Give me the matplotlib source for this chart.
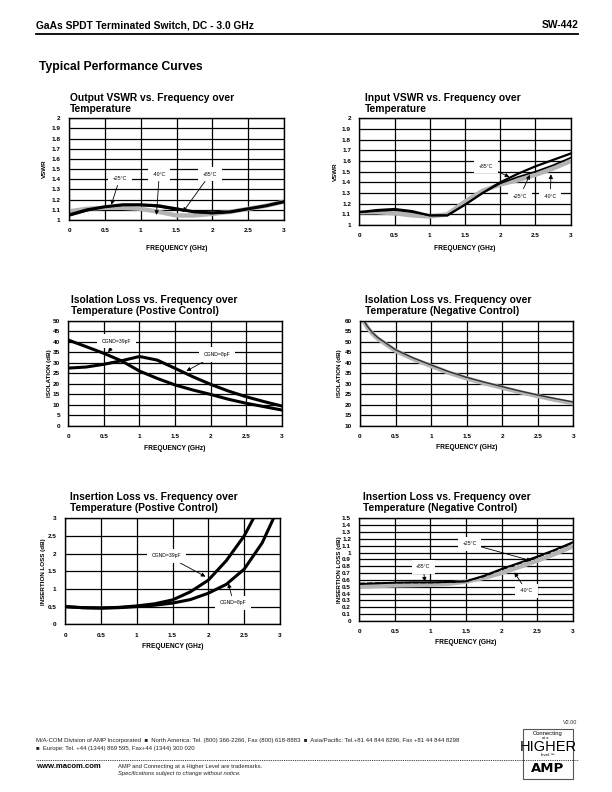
import matplotlib
matplotlib.use("Agg")
import matplotlib.pyplot as plt
from matplotlib.patches import Rectangle
from matplotlib.lines import Line2D

plt.rcParams['font.family'] = ['Liberation Sans', 'DejaVu Sans']

W, H = 612, 792

# ---------------- data ----------------
freq = [0, 0.25, 0.5, 0.75, 1.0, 1.25, 1.5, 1.75, 2.0, 2.25, 2.5, 2.75, 3.0]

out_vswr_p25 = [1.05, 1.10, 1.13, 1.15, 1.15, 1.14, 1.11, 1.08, 1.07, 1.08, 1.11, 1.14, 1.18]
out_vswr_p85 = [1.04, 1.09, 1.13, 1.145, 1.145, 1.13, 1.10, 1.08, 1.065, 1.08, 1.11, 1.14, 1.18]
out_vswr_m40 = [1.085, 1.11, 1.12, 1.12, 1.11, 1.08, 1.045, 1.045, 1.06, 1.08, 1.11, 1.14, 1.18]

in_vswr_p85 = [1.12, 1.14, 1.15, 1.13, 1.09, 1.09, 1.19, 1.30, 1.40, 1.48, 1.55, 1.61, 1.67]
in_vswr_p25 = [1.12, 1.13, 1.14, 1.12, 1.09, 1.09, 1.19, 1.30, 1.39, 1.45, 1.50, 1.56, 1.63]
in_vswr_m40 = [1.12, 1.12, 1.11, 1.09, 1.08, 1.10, 1.22, 1.32, 1.38, 1.42, 1.47, 1.53, 1.60]

iso_pos_39pf = [40.8, 37.7, 34.5, 30.9, 26.1, 22.6, 19.5, 17.1, 15.0, 12.7, 10.8, 9.2, 7.6]
iso_pos_8pf = [27.5, 28.0, 29.3, 31.0, 33.0, 31.3, 27.4, 23.4, 19.8, 16.6, 13.9, 11.6, 9.5]

freq_iso_neg = [0.03, 0.1, 0.17, 0.25, 0.5, 0.75, 1.0, 1.25, 1.5, 1.75, 2.0, 2.25, 2.5, 2.75, 3.0]
iso_neg_a = [61.5, 57.5, 54.5, 52.0, 46.2, 42.3, 39.0, 35.8, 33.1, 30.8, 28.7, 26.6, 24.7, 23.0, 21.4]
iso_neg_b = [61.0, 57.0, 54.0, 51.5, 45.7, 41.8, 38.5, 35.3, 32.6, 30.3, 28.2, 26.1, 24.2, 22.4, 20.8]

freq_il39 = [0, 0.25, 0.5, 0.75, 1.0, 1.25, 1.5, 1.75, 2.0, 2.25, 2.5, 2.63, 2.7]
il_pos_39pf = [0.50, 0.47, 0.46, 0.48, 0.52, 0.58, 0.69, 0.92, 1.25, 1.80, 2.50, 3.0, 3.3]
freq_il8 = [0, 0.25, 0.5, 0.75, 1.0, 1.25, 1.5, 1.75, 2.0, 2.25, 2.5, 2.75, 2.91, 3.0]
il_pos_8pf = [0.50, 0.47, 0.46, 0.47, 0.50, 0.54, 0.60, 0.70, 0.88, 1.13, 1.56, 2.30, 3.0, 3.4]

il_neg_p25 = [0.54, 0.55, 0.56, 0.565, 0.565, 0.57, 0.58, 0.66, 0.76, 0.85, 0.94, 1.04, 1.15]
il_neg_p85 = [0.55, 0.555, 0.56, 0.56, 0.56, 0.565, 0.58, 0.65, 0.75, 0.84, 0.93, 1.03, 1.14]
il_neg_m40 = [0.50, 0.51, 0.52, 0.525, 0.53, 0.545, 0.575, 0.63, 0.70, 0.79, 0.88, 0.98, 1.09]

xticks = [0, 0.5, 1, 1.5, 2, 2.5, 3]
xticklabels = ['0', '0.5', '1', '1.5', '2', '2.5', '3']

fig = plt.figure(figsize=(W / 100, H / 100), dpi=100)


def fx(px):
    return px / W


def fy(py):
    return 1 - py / H


def make_axes(left, right, top, bottom):
    return fig.add_axes([fx(left), fy(bottom), (right - left) / W, (bottom - top) / H])


BLACK_LW = 2.2
GRAY_LW = 3.2
GRAY = '#b4b4b4'
TICK_FS = 4.6
LAB_FS = 4.8
TITLE_FS = 7.4
ANN_FS = 3.7


def style(ax, box, ylim, yticks, ylabel, title_lines, title_x, title_y, ylab_x, xlab_y):
    left, right, top, bot = box
    ax.set_xlim(0, 3)
    ax.set_ylim(*ylim)
    ax.set_xticks(xticks)
    ax.set_xticklabels(xticklabels)
    ax.set_yticks(yticks)
    ax.set_yticklabels([('%g' % t) for t in yticks])
    ax.grid(True, color='black', lw=0.9)
    ax.set_axisbelow(True)
    ax.tick_params(length=0, labelsize=TICK_FS, pad=6)
    for lbl in ax.get_xticklabels() + ax.get_yticklabels():
        lbl.set_fontweight('bold')
    for s in ax.spines.values():
        s.set_linewidth(1.0)
    for i, line in enumerate(title_lines):
        fig.text(fx(title_x), fy(title_y + 11 * i), line, fontsize=TITLE_FS, fontweight='bold',
                 ha='left', va='center')
    fig.text(fx(ylab_x), fy((top + bot) / 2), ylabel, fontsize=LAB_FS - 0.3,
             fontweight='bold', rotation=90, ha='center', va='center')
    fig.text(fx((left + right) / 2), fy(xlab_y), 'FREQUENCY (GHz)', fontsize=LAB_FS,
             fontweight='bold', ha='center', va='center')


def ann(ax, text, tip, lab):
    ax.annotate(text, xy=tip, xytext=lab, fontsize=ANN_FS, ha='center', va='center',
                bbox=dict(boxstyle='square,pad=0.9', fc='white', ec='none'),
                arrowprops=dict(arrowstyle='-|>', color='black', lw=0.6,
                                mutation_scale=6, shrinkA=0, shrinkB=0))


# ---------------- Panel 1: Output VSWR ----------------
box = (69, 284, 118.3, 220)
ax = make_axes(*box)
ax.plot(freq, out_vswr_m40, color=GRAY, lw=GRAY_LW, solid_capstyle='butt')
ax.plot(freq, out_vswr_p85, color='black', lw=1.2)
ax.plot(freq, out_vswr_p25, color='black', lw=BLACK_LW)
style(ax, box, (1, 2), [1, 1.1, 1.2, 1.3, 1.4, 1.5, 1.6, 1.7, 1.8, 1.9, 2], 'VSWR',
      ['Output VSWR vs. Frequency over', 'Temperature'], 70, 98, 44, 248)
ann(ax, '+25°C', (0.59, 1.15), (0.71, 1.41))
ann(ax, '-40°C', (1.22, 1.05), (1.26, 1.45))
ann(ax, '+85°C', (1.59, 1.08), (1.97, 1.45))

# ---------------- Panel 2: Input VSWR ----------------
box = (359.3, 570.7, 118.3, 225)
ax = make_axes(*box)
ax.plot(freq, in_vswr_m40, color=GRAY, lw=GRAY_LW, solid_capstyle='butt')
ax.plot(freq, in_vswr_p25, color='black', lw=1.2)
ax.plot(freq, in_vswr_p85, color='black', lw=1.6)
style(ax, box, (1, 2), [1, 1.1, 1.2, 1.3, 1.4, 1.5, 1.6, 1.7, 1.8, 1.9, 2], 'VSWR',
      ['Input VSWR vs. Frequency over', 'Temperature'], 365, 98, 335, 248)
ann(ax, '+85°C', (2.13, 1.45), (1.80, 1.55))
ann(ax, '+25°C', (2.42, 1.47), (2.28, 1.27))
ann(ax, '-40°C', (2.72, 1.475), (2.71, 1.27))

# ---------------- Panel 3: Isolation positive ----------------
box = (68.3, 281.7, 320.7, 426)
ax = make_axes(*box)
ax.plot(freq, iso_pos_39pf, color='black', lw=BLACK_LW)
ax.plot(freq, iso_pos_8pf, color='black', lw=BLACK_LW)
style(ax, box, (0, 50), list(range(0, 55, 5)), 'ISOLATION (dB)',
      ['Isolation Loss vs. Frequency over', 'Temperature (Postive Control)'], 70.7, 300, 50, 448)
ann(ax, 'CGND=39pF', (0.56, 35.0), (0.68, 40.3))
ann(ax, 'CGND=8pF', (1.66, 26.1), (2.09, 34.0))

# ---------------- Panel 4: Isolation negative ----------------
box = (360, 573.3, 320.7, 426)
ax = make_axes(*box)
ax.plot(freq_iso_neg, iso_neg_b, color=GRAY, lw=GRAY_LW, solid_capstyle='butt')
ax.plot(freq_iso_neg, iso_neg_a, color='#303030', lw=1.0)
style(ax, box, (10, 60), list(range(10, 65, 5)), 'ISOLATION (dB)',
      ['Isolation Loss vs. Frequency over', 'Temperature (Negative Control)'], 365, 300, 339.3, 447)

# ---------------- Panel 5: Insertion loss positive ----------------
box = (65, 280, 518.3, 624.3)
ax = make_axes(*box)
ax.plot(freq_il39, il_pos_39pf, color='black', lw=BLACK_LW)
ax.plot(freq_il8, il_pos_8pf, color='black', lw=BLACK_LW)
style(ax, box, (0, 3), [0, 0.5, 1, 1.5, 2, 2.5, 3], 'INSERTION LOSS (dB)',
      ['Insertion Loss vs. Frequency over', 'Temperature (Postive Control)'], 70, 497, 44, 646)
ann(ax, 'CGND=39pF', (1.96, 1.35), (1.42, 1.94))
ann(ax, 'CGND=8pF', (2.28, 1.16), (2.35, 0.61))

# ---------------- Panel 6: Insertion loss negative ----------------
box = (359.3, 572.7, 518.3, 621)
ax = make_axes(*box)
ax.plot(freq, il_neg_m40, color=GRAY, lw=GRAY_LW, solid_capstyle='butt')
ax.plot(freq, il_neg_p85, color='black', lw=1.0, ls=(0, (4, 1.5)))
ax.plot(freq, il_neg_p25, color='black', lw=1.4)
style(ax, box, (0, 1.5), [round(0.1 * i, 1) for i in range(16)], 'INSERTION LOSS (dB)',
      ['Insertion Loss vs. Frequency over', 'Temperature (Negative Control)'], 363, 497, 340, 642)
ann(ax, '+25°C', (2.42, 0.88), (1.55, 1.13))
ann(ax, '+85°C', (0.92, 0.575), (0.90, 0.79))
ann(ax, '-40°C', (2.18, 0.71), (2.35, 0.44))

# ---------------- Header ----------------
fig.text(fx(36), fy(25), 'GaAs SPDT Terminated Switch, DC - 3.0 GHz', fontsize=7.4,
         fontweight='bold', ha='left', va='center')
fig.text(fx(578), fy(25), 'SW-442', fontsize=7.4, fontweight='bold', ha='right', va='center')
fig.add_artist(Line2D([fx(36), fx(578)], [fy(34), fy(34)], color='black', lw=1.3))
fig.text(fx(39), fy(66.7), 'Typical Performance Curves', fontsize=8.7, fontweight='bold',
         ha='left', va='center')

# ---------------- Footer ----------------
fig.text(fx(577), fy(723), 'V2.00', fontsize=4.0, ha='right', va='center', color='#333333')
fig.text(fx(36), fy(740.7),
         'M/A-COM Division of AMP Incorporated  \u25a0  North America: Tel. (800) 366-2266, Fax (800) 618-8883  '
         '\u25a0  Asia/Pacific: Tel.+81 44 844 8296, Fax +81 44 844 8298',
         fontsize=4.3, ha='left', va='center', color='#222222')
fig.text(fx(36), fy(748.3), '\u25a0  Europe: Tel. +44 (1344) 869 595, Fax+44 (1344) 300 020',
         fontsize=4.3, ha='left', va='center', color='#222222')
fig.add_artist(Line2D([fx(36), fx(578)], [fy(759.7), fy(759.7)], color='black', lw=0.6,
                      ls=(0, (1, 1.2))))
fig.text(fx(36), fy(766.7), 'www.macom.com', fontsize=5.6, fontweight='bold', ha='left', va='center')
fig.text(fx(118.3), fy(766.7), 'AMP and Connecting at a Higher Level are trademarks.',
         fontsize=4.2, ha='left', va='center', color='#222222')
fig.text(fx(118.3), fy(773.3), 'Specifications subject to change without notice.',
         fontsize=4.2, ha='left', va='center', style='italic', color='#222222')

# logo box
fig.add_artist(Rectangle((fx(522.7), fy(779)), (573.3 - 522.7) / W, 50 / H, transform=fig.transFigure,
                         fill=False, ec='#555555', lw=0.8))
fig.text(fx(548), fy(733.3), 'Connecting', fontsize=4.2, ha='center', va='center')
fig.text(fx(545), fy(738.3), 'at a', fontsize=2.8, ha='center', va='center')
fig.text(fx(548), fy(747), 'HIGHER', fontsize=10.5, ha='center', va='center', fontweight='light')
fig.text(fx(548), fy(755), 'level.\u2122', fontsize=3.2, ha='center', va='center')
fig.text(fx(548), fy(768.3), 'AMP', fontsize=9.5, fontweight='heavy', ha='center', va='center',
         family=['DejaVu Sans'])

fig.savefig('out.png', dpi=100)
